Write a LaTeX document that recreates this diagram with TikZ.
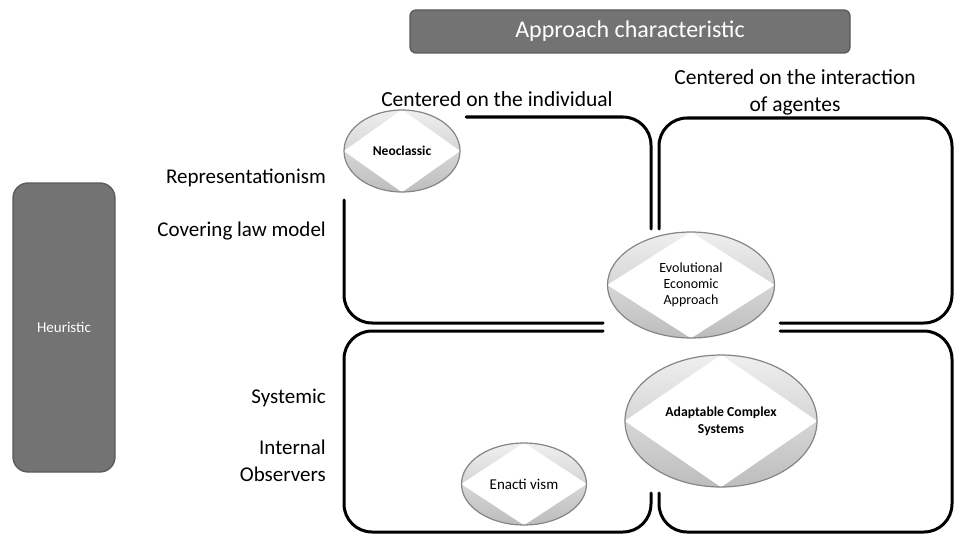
\documentclass[tikz,border=0pt]{standalone}
\usepackage{fontspec}
\setmainfont{Carlito}
\usetikzlibrary{shapes.geometric}
\definecolor{boxgray}{HTML}{737373}
\definecolor{boxedge}{HTML}{5A5A5A}
\definecolor{ellgray}{HTML}{858585}
\definecolor{elltop}{HTML}{EFEFEF}
\definecolor{ellbot}{HTML}{BDBDBD}
\tikzset{
  quad/.style={line width=3pt, rounded corners=28pt, line cap=round},
  darkbox/.style={fill=boxgray, draw=boxedge, line width=1.3pt, text=white, inner sep=0pt},
  ellbg/.style={ellipse, inner sep=0pt, top color=elltop, bottom color=ellbot},
  ellfg/.style={ellipse, inner sep=0pt, draw=ellgray, line width=1.2pt, align=center},
  lab/.style={font=\fontsize{21}{27}\selectfont, anchor=east, inner sep=0pt, align=right},
  toplab/.style={font=\fontsize{21.5}{27}\selectfont, inner sep=0pt, align=center}
}
\newcommand\myell[7]{%
  \node[ellbg, minimum width=#4pt, minimum height=#5pt] (#1-bg) at (#2,#3) {};
  \fill[white] (#1-bg.west) -- (#1-bg.north) -- (#1-bg.east) -- (#1-bg.south) -- cycle;
  \node[ellfg, minimum width=#4pt, minimum height=#5pt, font=#6] (#1) at (#2,#3) {#7};
}
\begin{document}
\begin{tikzpicture}[x=1pt, y=-1pt]
\useasboundingbox (0,0) rectangle (954,535);

% header and side box
\node[darkbox, rounded corners=6pt, minimum width=440pt, minimum height=43pt,
      font=\fontsize{24}{28}\selectfont] (header) at (630,31.5) {Approach characteristic};
\node[darkbox, rounded corners=15pt, minimum width=102pt, minimum height=289pt,
      font=\fontsize{15}{18}\selectfont] (heur) at (64,327.5) {Heuristic};

% column labels
\node[toplab] (colA) at (497,99) {Centered on the individual};
\node[toplab] (colB) at (795,92) {Centered on the interaction\\of agentes};

% row labels
\node[lab] (r1) at (326,178) {Representationism};
\node[lab] (r2) at (326,231) {Covering law model};
\node[lab] (r3) at (326,398) {Systemic};
\node[lab] (r4) at (326,461) {Internal\\Observers};

% quadrants
\draw[quad] (344,200) |- (603,323);
\draw[quad] (466,117) -| (651,229);
\draw[quad] (659,229) |- (952,118) |- (780,323);
\draw[quad] (780,331) -| (952,532) -| (659,493);
\draw[quad] (651,493) |- (344,532) |- (603,331);

% ellipses
\myell{neo}{402}{151}{116}{82}{\bfseries\fontsize{13.5}{16}\selectfont}{Neoclassic}
\myell{evo}{691}{285}{167}{106}{\fontsize{14}{16}\selectfont}{Evolutional\\Economic\\Approach}
\myell{acs}{721}{421}{192}{132}{\bfseries\fontsize{13.7}{17}\selectfont}{Adaptable Complex\\Systems}
\myell{ena}{524}{484}{125}{82}{\fontsize{15}{18}\selectfont}{Enacti vism}
\end{tikzpicture}
\end{document}
